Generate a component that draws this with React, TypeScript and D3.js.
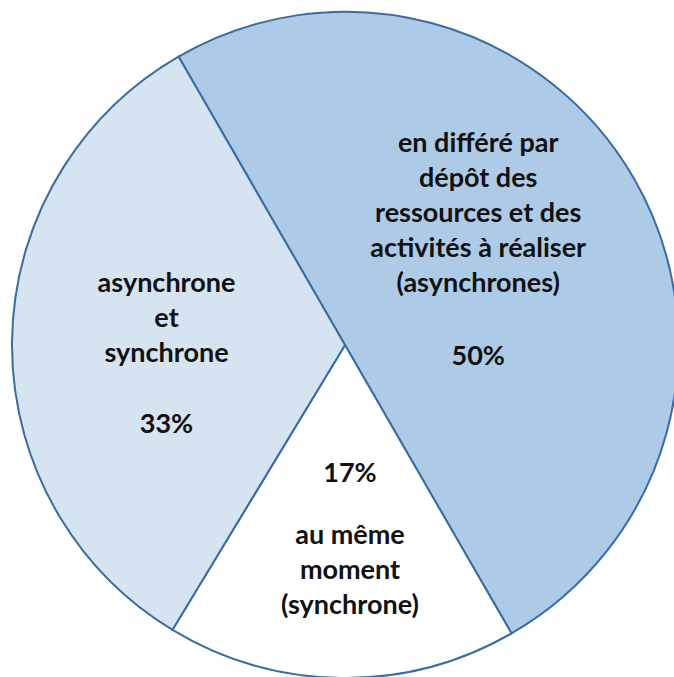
import React from "react";
import * as d3 from "d3";

const categories = [
  "en différé par dépôt des ressources et des activités à réaliser (asynchrones)",
  "au même moment (synchrone)",
  "asynchrone et synchrone",
];
const values = [50, 17, 33];
const percentLabels = ["50%", "17%", "33%"];
const labelLines: string[][] = [
  ["en différé par", "dépôt des", "ressources et des", "activités à réaliser", "(asynchrones)", "", "50%"],
  ["17%", "", "au même", "moment", "(synchrone)"],
  ["asynchrone", "et", "synchrone", "", "33%"],
];
const fills = ["#ADCBE6", "#FFFFFF", "#D6E3F1"];

const W = 674;
const H = 677;
const CX = 345;
const CY = 345;
const R = 333;
const LINE_H = 35;
// label block anchors (first baseline) relative to center, as fractions of radius
const anchors: [number, number][] = [
  [0.4, -0.58],
  [0.015, 0.412],
  [-0.536, -0.16],
];
const blankH = [38, 27, 36];

export default function App() {
  const pie = d3
    .pie<number>()
    .sort(null)
    .value((d) => d)
    .startAngle(-Math.PI / 6)
    .endAngle(2 * Math.PI - Math.PI / 6);
  const arcs = pie(values);
  const arc = d3.arc<d3.PieArcDatum<number>>().innerRadius(0).outerRadius(R);

  return (
    <svg
      width={W}
      height={H}
      style={{ position: "absolute", left: 0, top: 0, background: "#fff" }}
      fontFamily="Lato, 'Open Sans', sans-serif"
    >
      <g transform={`translate(${CX},${CY})`}>
        {arcs.map((a, i) => (
          <path
            key={categories[i]}
            d={arc(a) || ""}
            fill={fills[i]}
            stroke="#3A6CA3"
            strokeWidth={2}
            strokeLinejoin="round"
          />
        ))}
        {arcs.map((a, i) => {
          const [fx, fy] = anchors[i];
          let y = fy * R;
          const x = fx * R;
          const ys: number[] = [];
          labelLines[i].forEach((line, k) => {
            if (k > 0) y += labelLines[i][k - 1] === "" ? blankH[i] : LINE_H;
            ys.push(y);
          });
          return (
            <g key={"l" + i}>
              {labelLines[i].map((line, k) =>
                line === "" ? null : (
                  <text
                    key={k}
                    x={x}
                    y={ys[k]}
                    textAnchor="middle"
                    fontWeight="bold"
                    fontSize={27}
                    fill="#111"
                  >
                    {line}
                  </text>
                )
              )}
            </g>
          );
        })}
      </g>
    </svg>
  );
}
